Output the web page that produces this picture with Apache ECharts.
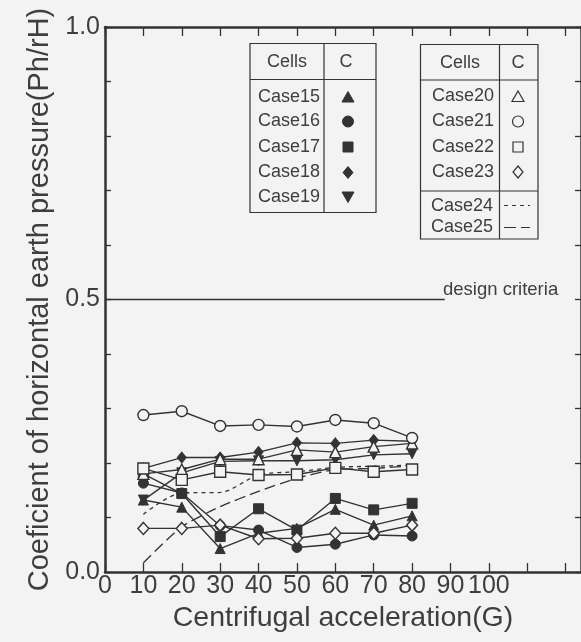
<!DOCTYPE html>
<html>
<head>
<meta charset="utf-8">
<script src="https://cdn.jsdelivr.net/npm/echarts/dist/echarts.min.js"></script>
<style>
html,body{margin:0;padding:0;background:#f3f3f3;}
#chart{width:581px;height:642px;}
</style>
</head>
<body>
<div id="chart"></div>
<script>
// ---- data ----
const accel = [10, 20, 30, 40, 50, 60, 70, 80];
const case15 = [0.132, 0.119, 0.043, 0.071, 0.080, 0.115, 0.086, 0.103];
const case16 = [0.163, 0.145, 0.085, 0.077, 0.045, 0.051, 0.068, 0.066];
const case17 = [0.180, 0.144, 0.065, 0.116, 0.077, 0.135, 0.114, 0.126];
const case18 = [0.190, 0.210, 0.210, 0.220, 0.237, 0.236, 0.242, 0.240];
const case19 = [0.132, 0.182, 0.203, 0.204, 0.204, 0.206, 0.215, 0.217];
const case20 = [0.180, 0.188, 0.207, 0.207, 0.224, 0.220, 0.230, 0.236];
const case21 = [0.288, 0.295, 0.268, 0.270, 0.267, 0.279, 0.273, 0.246];
const case22 = [0.190, 0.169, 0.184, 0.178, 0.179, 0.191, 0.184, 0.188];
const case23 = [0.080, 0.080, 0.086, 0.061, 0.062, 0.071, 0.071, 0.086];
const case24 = [0.106, 0.145, 0.146, 0.178, 0.184, 0.192, 0.194, 0.196];
const case25 = [0.017, 0.083, 0.120, 0.148, 0.172, 0.188, 0.190, 0.195];
const designValue = 0.5;
const designExtent = [0, 88.5];
const xTickMax = 100;
const yLabelTicks = [0.0, 0.5, 1.0];

// ---- style ----
const INK = '#333333';
const TXT = '#3e3e3e';
const BG = '#f3f3f3';
const FONT = '"Liberation Sans", Arial, sans-serif';

const chart = echarts.init(document.getElementById('chart'), null, {renderer: 'canvas'});

function pts(vals) { return accel.map((x, i) => [x, vals[i]]); }

function markerSeries(name, vals, symbol, size, filled, rotate) {
  return {
    type: 'line', name: name, data: pts(vals),
    symbol: symbol, symbolSize: size, symbolRotate: rotate || 0,
    showSymbol: true,
    lineStyle: {color: INK, width: 1.4},
    itemStyle: filled ? {color: INK, borderColor: INK, borderWidth: 1}
                      : {color: BG, borderColor: INK, borderWidth: 1.4},
    emphasis: {disabled: true}, animation: false, z: 3
  };
}

const series = [
  markerSeries('Case15', case15, 'triangle', 10, true),
  markerSeries('Case16', case16, 'circle', 10, true),
  markerSeries('Case17', case17, 'rect', 10, true),
  markerSeries('Case18', case18, 'diamond', [9, 11], true),
  markerSeries('Case19', case19, 'triangle', 10, true, 180),
  markerSeries('Case20', case20, 'triangle', 11, false),
  markerSeries('Case21', case21, 'circle', 11, false),
  markerSeries('Case22', case22, 'rect', 11, false),
  markerSeries('Case23', case23, 'diamond', [11, 12], false),
  {
    type: 'line', name: 'Case24', data: pts(case24), showSymbol: false, symbol: 'none',
    smooth: 0.3,
    lineStyle: {color: INK, width: 1.3, type: [4, 4]}, animation: false, z: 2
  },
  {
    type: 'line', name: 'Case25', data: pts(case25), showSymbol: false, symbol: 'none',
    smooth: 0.2,
    lineStyle: {color: INK, width: 1.3, type: [11, 5]}, animation: false, z: 2
  },
  {
    type: 'line', name: 'design', data: designExtent.map(x => [x, designValue]),
    showSymbol: false, symbol: 'none',
    lineStyle: {color: INK, width: 1.3}, animation: false, z: 2
  }
];

// ---- legend tables (graphic) ----
const g = [];
const LW = 1.2;
function line(x1, y1, x2, y2) {
  return {type: 'line', shape: {x1, y1, x2, y2}, style: {stroke: INK, lineWidth: LW}, silent: true};
}
function rect(x, y, w, h) {
  return {type: 'rect', shape: {x, y, width: w, height: h}, style: {fill: null, stroke: INK, lineWidth: LW}, silent: true};
}
function text(str, x, y, align, size) {
  return {type: 'text', x: x, y: y, silent: true,
    style: {text: str, fill: TXT, font: (size || 18) + 'px ' + FONT, textAlign: align || 'center', textVerticalAlign: 'middle'}};
}
function sym(kind, cx, cy, filled) {
  const st = filled ? {fill: INK, stroke: INK, lineWidth: 1} : {fill: BG, stroke: INK, lineWidth: 1.2};
  const r = 5.5;
  if (kind === 'circle') return {type: 'circle', shape: {cx, cy, r: r}, style: st, silent: true};
  if (kind === 'rect') return {type: 'rect', shape: {x: cx - 5, y: cy - 5, width: 10, height: 10}, style: st, silent: true};
  if (kind === 'triangle') return {type: 'polygon', shape: {points: [[cx, cy - 5.5], [cx + 6, cy + 5], [cx - 6, cy + 5]]}, style: st, silent: true};
  if (kind === 'itriangle') return {type: 'polygon', shape: {points: [[cx, cy + 5.5], [cx + 6, cy - 5], [cx - 6, cy - 5]]}, style: st, silent: true};
  if (kind === 'diamond') return {type: 'polygon', shape: {points: [[cx, cy - 6], [cx + 5, cy], [cx, cy + 6], [cx - 5, cy]]}, style: st, silent: true};
}

// table 1
g.push(rect(250, 43.5, 126, 169));
g.push(line(324, 43.5, 324, 212.5));
g.push(line(250, 79.5, 376, 79.5));
g.push(text('Cells', 287, 62));
g.push(text('C', 346, 62));
const t1 = [['Case15', 'triangle'], ['Case16', 'circle'], ['Case17', 'rect'], ['Case18', 'diamond'], ['Case19', 'itriangle']];
const t1y = [97, 121.5, 147, 172.5, 197];
t1.forEach((r, i) => {
  g.push(text(r[0], 320, t1y[i], 'right'));
  g.push(sym(r[1], 348, t1y[i], true));
});

// table 2
g.push(rect(420.5, 44.5, 117.5, 194.5));
g.push(line(499.5, 44.5, 499.5, 239));
g.push(line(420.5, 80, 538, 80));
g.push(line(420.5, 191, 538, 191));
g.push(text('Cells', 460, 63));
g.push(text('C', 518, 63));
const t2 = [['Case20', 'triangle'], ['Case21', 'circle'], ['Case22', 'rect'], ['Case23', 'diamond']];
const t2y = [96.5, 121.5, 147, 172];
t2.forEach((r, i) => {
  g.push(text(r[0], 494, t2y[i], 'right'));
  g.push(sym(r[1], 518, t2y[i], false));
});
g.push(text('Case24', 493, 206, 'right'));
g.push(text('Case25', 493, 227.5, 'right'));
g.push({type: 'line', shape: {x1: 504, y1: 205.5, x2: 530, y2: 205.5}, style: {stroke: INK, lineWidth: 1.2, lineDash: [4, 4]}, silent: true});
g.push({type: 'line', shape: {x1: 504, y1: 227.5, x2: 530, y2: 227.5}, style: {stroke: INK, lineWidth: 1.2, lineDash: [12, 5]}, silent: true});

// design criteria label
g.push({type: 'text', x: 443, y: 299, silent: true,
  style: {text: 'design criteria', fill: TXT, font: '18.5px ' + FONT, textAlign: 'left', textVerticalAlign: 'bottom'}});

const axisLineStyle = {onZero: false, lineStyle: {color: INK, width: 2.5}};

const option = {
  backgroundColor: BG,
  animation: false,
  grid: {left: 105, right: 0, top: 27, bottom: 70, containLabel: false, outerBoundsMode: 'none'},
  xAxis: [
    {
      type: 'value', position: 'bottom', min: 0, max: 124, interval: 10,
      axisLine: axisLineStyle,
      axisTick: {show: true, inside: true, length: 9, lineStyle: {color: INK, width: 1.3}},
      splitLine: {show: false},
      axisLabel: {
        color: TXT, fontSize: 25, fontFamily: FONT, margin: 2, hideOverlap: false,
        showMaxLabel: false,
        formatter: v => (v <= xTickMax ? String(v) : '')
      },
      name: 'Centrifugal acceleration(G)', nameLocation: 'middle', nameGap: 30,
      nameTextStyle: {color: TXT, fontSize: 28.5, fontFamily: FONT}
    },
    {
      type: 'value', position: 'top', min: 0, max: 124, interval: 10,
      axisLine: axisLineStyle,
      axisTick: {show: true, inside: true, length: 9, lineStyle: {color: INK, width: 1.3}},
      axisLabel: {show: false}, splitLine: {show: false}
    }
  ],
  yAxis: [
    {
      type: 'value', position: 'left', min: 0, max: 1, interval: 0.1,
      axisLine: axisLineStyle,
      axisTick: {show: true, inside: true, length: 6, lineStyle: {color: INK, width: 1.3}},
      splitLine: {show: false},
      axisLabel: {
        color: TXT, fontSize: 25, fontFamily: FONT, margin: 5, hideOverlap: false,
        formatter: v => (yLabelTicks.some(t => Math.abs(t - v) < 1e-6) ? v.toFixed(1) : '')
      },
      name: 'Coeficient of horizontal earth pressure(Ph/rH)', nameLocation: 'middle', nameGap: 47,
      nameTextStyle: {color: TXT, fontSize: 29, fontFamily: FONT}
    },
    {
      type: 'value', position: 'right', min: 0, max: 1, interval: 0.1,
      axisLine: axisLineStyle,
      axisTick: {show: true, inside: true, length: 6, lineStyle: {color: INK, width: 1.3}},
      axisLabel: {show: false}, splitLine: {show: false}
    }
  ],
  series: series,
  graphic: g
};
chart.setOption(option);
</script>
</body>
</html>
